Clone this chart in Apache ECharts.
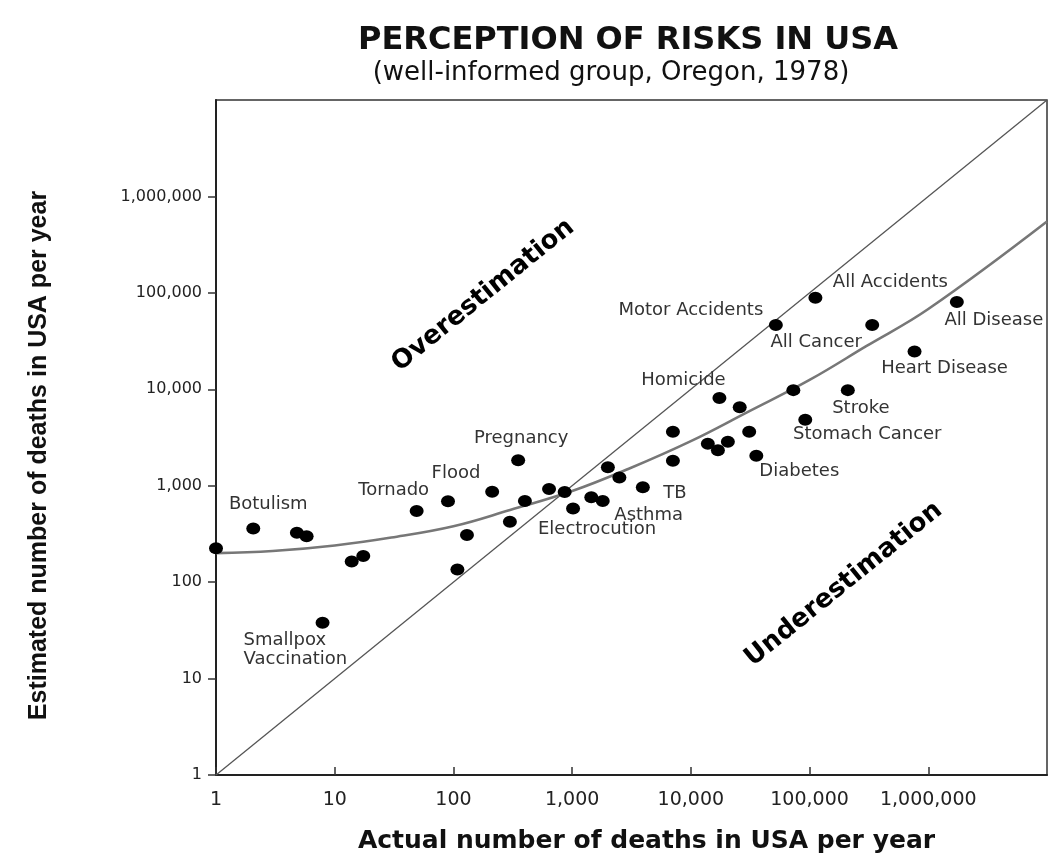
<!DOCTYPE html>
<html>
<head>
<meta charset="utf-8">
<script src="https://cdn.jsdelivr.net/npm/echarts@6/dist/echarts.min.js"></script>
<style>
html,body{margin:0;padding:0;background:#fff;}
#chart{width:1050px;height:859px;}
</style>
</head>
<body>
<div id="chart"></div>
<script>
// ---- data ----
const riskNames = [
  '', 'Botulism', '', '', '', '', 'Smallpox\nVaccination', 'Tornado', 'Flood', '',
  'Pregnancy', '', '', '', '', '', '', 'Electrocution', '', '',
  '', 'Asthma', 'TB', '', '', 'Homicide', '', '', '', '',
  '', 'Diabetes', 'Stomach Cancer', '', 'All Accidents', 'Motor Accidents', 'All Cancer', 'All Disease', 'Heart Disease', 'Stroke'
];
const actualDeaths = [
  1, 2.06, 4.8, 5.8, 13.9, 17.4, 7.9, 49, 90, 212,
  351, 130, 108, 299, 400, 639, 865, 1018, 2000, 2500,
  1450, 1810, 3940, 7060, 7060, 17400, 25800, 13900, 16900, 20500,
  31000, 35600, 92000, 73000, 112000, 52000, 337000, 1740000, 766000, 210000
];
const estimatedDeaths = [
  225, 361, 325, 300, 164, 187, 38, 548, 690, 864,
  1840, 309, 135, 422, 694, 927, 859, 580, 1550, 1220,
  760, 694, 965, 3620, 1810, 8100, 6500, 2730, 2330, 2860,
  3620, 2040, 4840, 9800, 89000, 46400, 46400, 80400, 24700, 9800
];
const curveActual = [1, 3, 10, 30, 100, 300, 1000, 3000, 10000, 30000, 100000, 300000, 1000000, 10000000];
const curveEstimated = [200, 210, 240, 290, 380, 560, 880, 1500, 2900, 5800, 12500, 28000, 68000, 550000];
const diagonalValues = [1, 10000000];
const tickValues = [1, 10, 100, 1000, 10000, 100000, 1000000];
const tickLabels = ['1', '10', '100', '1,000', '10,000', '100,000', '1,000,000'];
const regionLabels = ['Overestimation', 'Underestimation'];
const regionActual = [178, 194000];
const regionEstimated = [94000, 95];
const titleText = 'PERCEPTION OF RISKS IN USA';
const subtitleText = '(well-informed group, Oregon, 1978)';
const xAxisTitle = 'Actual number of deaths in USA per year';
const yAxisTitle = 'Estimated number of deaths in USA per year';

// ---- label placement (style only) ----
const labelPlacement = {
  'Botulism': {offset: [15, -24]},
  'Smallpox\nVaccination': {offset: [-79, 27], align: 'left'},
  'Tornado': {offset: [-23, -21]},
  'Flood': {offset: [8, -28]},
  'Pregnancy': {offset: [3, -22]},
  'Electrocution': {offset: [24, 21]},
  'Asthma': {offset: [46, 14]},
  'TB': {offset: [32, 6]},
  'Homicide': {offset: [-36, -18]},
  'Diabetes': {offset: [43, 15]},
  'Stomach Cancer': {offset: [62, 15]},
  'Stroke': {offset: [13, 18]},
  'Heart Disease': {offset: [30, 17]},
  'All Disease': {offset: [37, 18]},
  'All Cancer': {offset: [-56, 17]},
  'Motor Accidents': {offset: [-85, -15]},
  'All Accidents': {offset: [75, -15]}
};

function tickFormatter(v) {
  const i = tickValues.indexOf(Math.round(v));
  return i >= 0 ? tickLabels[i] : '';
}

const pointData = actualDeaths.map(function (x, i) {
  const name = riskNames[i];
  const item = {value: [x, estimatedDeaths[i]], name: name};
  if (name) {
    const p = labelPlacement[name] || {offset: [0, -16]};
    item.label = {show: true, offset: p.offset, align: p.align || 'center'};
  }
  return item;
});

const chart = echarts.init(document.getElementById('chart'));
const FONT = 'DejaVu Sans';
chart.setOption({
  backgroundColor: '#fff',
  animation: false,
  graphic: [
    {type: 'text', x: 628, y: 25, style: {text: titleText, textAlign: 'center', fill: '#111',
      font: 'bold 32px "DejaVu Sans"'}},
    {type: 'text', x: 611, y: 60, style: {text: subtitleText, textAlign: 'center', fill: '#111',
      font: '26px "DejaVu Sans"'}}
  ],
  grid: {left: 216, right: 3, top: 100, bottom: 78, show: true, borderColor: '#333', borderWidth: 1.5, backgroundColor: 'transparent'},
  xAxis: {
    type: 'log', logBase: 10, min: 1, max: 10000000, interval: 1,
    name: xAxisTitle, nameLocation: 'middle', nameGap: 54,
    nameTextStyle: {fontFamily: FONT, fontWeight: 'bold', fontSize: 25, color: '#111', padding: [0, 0, 0, 30]},
    axisLine: {lineStyle: {color: '#222', width: 2}},
    axisTick: {inside: true, length: 8, lineStyle: {color: '#333', width: 1.5}},
    axisLabel: {formatter: tickFormatter, fontFamily: FONT, fontSize: 19, color: '#222', margin: 16, showMaxLabel: false},
    splitLine: {show: false}, minorTick: {show: false}
  },
  yAxis: {
    type: 'log', logBase: 10, min: 1, max: 10000000, interval: 1,
    name: yAxisTitle, nameLocation: 'middle', nameGap: 164,
    nameTextStyle: {fontFamily: 'Liberation Sans', fontWeight: 'bold', fontSize: 25, color: '#111', padding: [0, 36, 0, 0]},
    axisLine: {lineStyle: {color: '#222', width: 2}},
    axisTick: {inside: false, length: 8, lineStyle: {color: '#333', width: 1.5}},
    axisLabel: {formatter: tickFormatter, fontFamily: FONT, fontSize: 16, color: '#222', margin: 14, showMaxLabel: false},
    splitLine: {show: false}, minorTick: {show: false}
  },
  series: [
    {
      type: 'line', data: diagonalValues.map(function (v) { return [v, v]; }),
      symbol: 'none', lineStyle: {color: '#555', width: 1.3}, silent: true, z: 1
    },
    {
      type: 'line', smooth: 0.4, data: curveActual.map(function (x, i) { return [x, curveEstimated[i]]; }),
      symbol: 'none', lineStyle: {color: '#777', width: 2.6}, silent: true, z: 2
    },
    {
      type: 'scatter', data: pointData, symbol: 'circle', symbolSize: [14, 12],
      itemStyle: {color: '#000', opacity: 1}, z: 3,
      label: {show: false, position: 'inside', formatter: '{b}', fontFamily: FONT, fontSize: 18,
        color: '#333', lineHeight: 19, verticalAlign: 'middle'}
    },
    {
      type: 'scatter', symbolSize: 0, z: 4, itemStyle: {opacity: 1},
      data: regionLabels.map(function (t, i) { return {value: [regionActual[i], regionEstimated[i]], name: t}; }),
      label: {show: true, position: 'inside', formatter: '{b}', rotate: 39, fontFamily: FONT, fontWeight: 'bold',
        fontSize: 26, color: '#000', opacity: 1, align: 'center', verticalAlign: 'middle'}
    }
  ]
});
</script>
</body>
</html>
